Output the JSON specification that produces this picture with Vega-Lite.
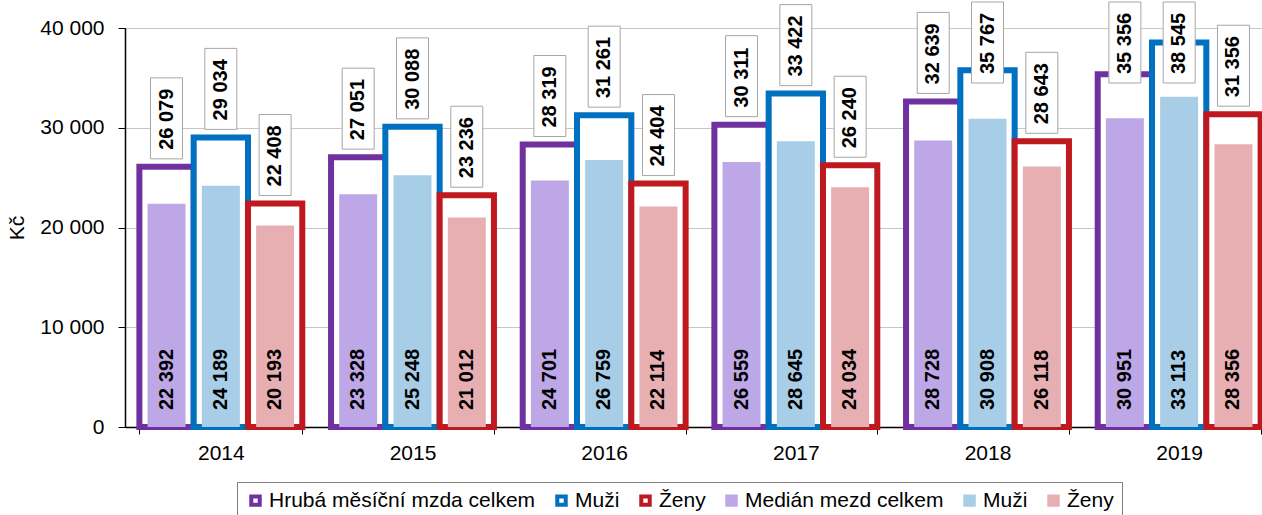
{
  "$schema": "https://vega.github.io/schema/vega-lite/v6.json",
  "width": 1137,
  "height": 399,
  "autosize": {"type": "none"},
  "padding": {"left": 125, "top": 28, "right": 0, "bottom": 88},
  "data": {"values": [
    {"year": "2014", "ka": "a1", "km": "m1", "avg": 26079, "med": 22392},
    {"year": "2014", "ka": "a2", "km": "m2", "avg": 29034, "med": 24189},
    {"year": "2014", "ka": "a3", "km": "m3", "avg": 22408, "med": 20193},
    {"year": "2015", "ka": "a1", "km": "m1", "avg": 27051, "med": 23328},
    {"year": "2015", "ka": "a2", "km": "m2", "avg": 30088, "med": 25248},
    {"year": "2015", "ka": "a3", "km": "m3", "avg": 23236, "med": 21012},
    {"year": "2016", "ka": "a1", "km": "m1", "avg": 28319, "med": 24701},
    {"year": "2016", "ka": "a2", "km": "m2", "avg": 31261, "med": 26759},
    {"year": "2016", "ka": "a3", "km": "m3", "avg": 24404, "med": 22114},
    {"year": "2017", "ka": "a1", "km": "m1", "avg": 30311, "med": 26559},
    {"year": "2017", "ka": "a2", "km": "m2", "avg": 33422, "med": 28645},
    {"year": "2017", "ka": "a3", "km": "m3", "avg": 26240, "med": 24034},
    {"year": "2018", "ka": "a1", "km": "m1", "avg": 32639, "med": 28728},
    {"year": "2018", "ka": "a2", "km": "m2", "avg": 35767, "med": 30908},
    {"year": "2018", "ka": "a3", "km": "m3", "avg": 28643, "med": 26118},
    {"year": "2019", "ka": "a1", "km": "m1", "avg": 35356, "med": 30951},
    {"year": "2019", "ka": "a2", "km": "m2", "avg": 38545, "med": 33113},
    {"year": "2019", "ka": "a3", "km": "m3", "avg": 31356, "med": 28356}
  ]},
  "config": {
    "font": "Liberation Sans",
    "view": {"stroke": "#000000", "strokeWidth": 1},
    "axis": {
      "labelFont": "Liberation Sans", "labelFontSize": 21, "labelColor": "#000000",
      "titleFont": "Liberation Sans", "titleFontSize": 21, "titleFontWeight": "normal", "titleColor": "#000000",
      "domainColor": "#000000", "tickColor": "#000000"
    },
    "legend": {
      "labelFont": "Liberation Sans", "labelFontSize": 21, "labelColor": "#000000", "labelLimit": 400,
      "symbolType": "square", "symbolSize": 72, "symbolStrokeWidth": 4, "labelOffset": 3, "columnPadding": 13,
      "padding": 8, "strokeColor": "#7F7F7F", "fillColor": "white"
    }
  },
  "resolve": {"scale": {"y": "independent"}},
  "layer": [
    {
      "layer": [
        {
          "mark": {"type": "bar", "fill": "white", "strokeWidth": 6},
          "encoding": {
            "x": {"field": "year", "type": "nominal",
                  "scale": {"paddingInner": 0.15, "paddingOuter": 0.075, "range": [0, 1150]},
                  "axis": {"title": null, "labelAngle": 0, "tickBand": "extent", "tickSize": 7, "labelPadding": 8, "domainWidth": 1.5, "grid": false}},
            "xOffset": {"field": "ka", "type": "nominal", "scale": {"paddingInner": 0, "paddingOuter": 0}},
            "y": {"field": "avg", "type": "quantitative", "scale": {"domain": [0, 40000], "nice": false},
                  "axis": {"title": "Kč", "values": [0, 10000, 20000, 30000, 40000], "labelExpr": "replace(format(datum.value, ','), ',', ' ')", "tickSize": 7, "labelPadding": 14, "grid": true, "gridColor": "#C6C6C6", "titlePadding": 12, "domainWidth": 1.5}},
            "stroke": {"field": "ka", "type": "nominal",
                       "scale": {"domain": ["a1", "a2", "a3", "m1", "m2", "m3"], "range": ["#7030A0", "#0070C0", "#C0181F", "#BDA7E6", "#A7CDE7", "#E8AFB2"]},
                       "legend": {
                         "title": null, "orient": "none", "legendX": 112, "legendY": 454, "direction": "horizontal",
                         "labelExpr": "datum.value == 'a1' ? 'Hrubá měsíční mzda celkem' : datum.value == 'm1' ? 'Medián mezd celkem' : (datum.value == 'a2' || datum.value == 'm2') ? 'Muži' : 'Ženy'"
                       }}
          }
        },
        {
          "mark": {"type": "bar", "width": 38},
          "encoding": {
            "x": {"field": "year", "type": "nominal"},
            "xOffset": {"field": "ka", "type": "nominal"},
            "y": {"field": "med", "type": "quantitative"},
            "color": {"field": "km", "type": "nominal",
                      "scale": {"domain": ["a1", "a2", "a3", "m1", "m2", "m3"], "range": ["#FFFFFF", "#FFFFFF", "#FFFFFF", "#BDA7E6", "#A7CDE7", "#E8AFB2"]},
                      "legend": {
                        "title": null, "orient": "none", "legendX": 112, "legendY": 454, "direction": "horizontal",
                        "labelExpr": "datum.value == 'a1' ? 'Hrubá měsíční mzda celkem' : datum.value == 'm1' ? 'Medián mezd celkem' : (datum.value == 'a2' || datum.value == 'm2') ? 'Muži' : 'Ženy'"
                      }}
          }
        },
        {
          "mark": {"type": "text", "angle": 270, "align": "left", "baseline": "middle", "fontSize": 20, "fontWeight": "bold", "yOffset": -17, "color": "#000000",
                   "text": {"expr": "replace(format(datum.med, ','), ',', ' ')"}},
          "encoding": {
            "x": {"field": "year", "type": "nominal"},
            "xOffset": {"field": "ka", "type": "nominal"},
            "y": {"datum": 0}
          }
        }
      ]
    },
    {
      "layer": [
        {
          "mark": {"type": "bar", "width": 32, "fill": "white", "stroke": "#A6A6A6", "strokeWidth": 1, "y2Offset": 81},
          "encoding": {
            "x": {"field": "year", "type": "nominal"},
            "xOffset": {"field": "ka", "type": "nominal"},
            "y": {"field": "avg", "type": "quantitative", "scale": {"domain": [-8922, 33684], "range": [399, -26], "clamp": true, "nice": false, "zero": false}, "axis": null},
            "y2": {"field": "avg"}
          }
        },
        {
          "mark": {"type": "text", "angle": 270, "align": "left", "baseline": "middle", "fontSize": 20, "fontWeight": "bold", "yOffset": 72, "color": "#000000",
                   "text": {"expr": "replace(format(datum.avg, ','), ',', ' ')"}},
          "encoding": {
            "x": {"field": "year", "type": "nominal"},
            "xOffset": {"field": "ka", "type": "nominal"},
            "y": {"field": "avg", "type": "quantitative"}
          }
        }
      ]
    }
  ]
}
